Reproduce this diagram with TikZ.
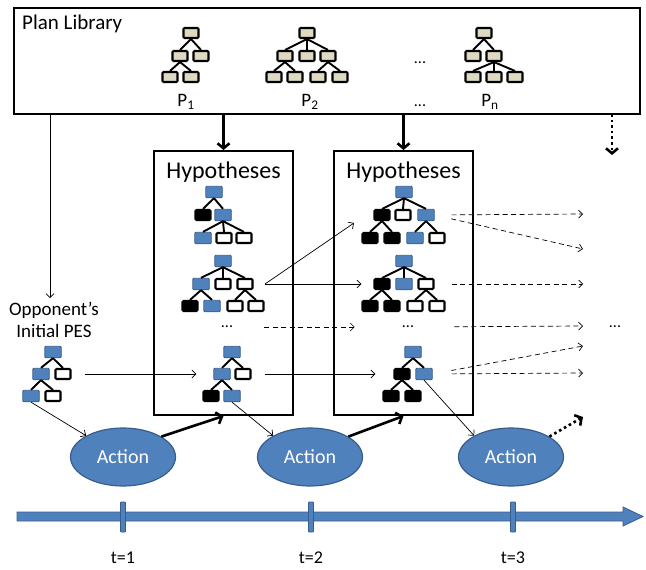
\documentclass[tikz,border=0pt]{standalone}
\usepackage{fontspec}
\setmainfont{Carlito}
\usetikzlibrary{arrows.meta,shapes.geometric}
\definecolor{ofblue}{HTML}{4F81BD}
\definecolor{ofblueb}{HTML}{385D8A}
\definecolor{beige}{HTML}{DDD9C3}
\newcommand\tn[4]{\node[#1] (#2) at (#3,#4) {};}
\newcommand\te[2]{\draw[tedge] (#1.south) -- (#2.north);}
\tikzset{
  tnode/.style={minimum width=15pt, minimum height=10pt, inner sep=0pt, rounded corners=1pt, line width=2.1pt},
  pn/.style={tnode, draw=black, fill=beige},
  bn/.style={tnode, draw=ofblueb, fill=ofblue, line width=0.8pt, minimum width=16.5pt, minimum height=11.5pt},
  kn/.style={tnode, draw=black, fill=black},
  wn/.style={tnode, draw=black, fill=white},
  tedge/.style={line width=1.9pt, black},
  bigbox/.style={draw=black, line width=2pt, inner sep=0pt},
  thin/.style={line width=0.7pt, -{Straight Barb[length=4pt,width=8pt]}},
  dsh/.style={thin, dash pattern=on 5pt off 3.5pt},
  thick/.style={line width=2.6pt, -{Straight Barb[length=5pt,width=12pt]}},
  dotarrow/.style={thick, dash pattern=on 2.6pt off 3pt},
  action/.style={ellipse, draw=ofblueb, fill=ofblue, line width=1.2pt, minimum width=105pt, minimum height=58pt, text=white, font=\fontsize{20}{24}\selectfont},
  lbl/.style={font=\fontsize{19}{22}\selectfont, inner sep=0pt},
  dots/.style={font=\fontsize{16}{18}\selectfont, inner sep=0pt},
}
\begin{document}
\begin{tikzpicture}[x=1pt,y=-1pt]
\useasboundingbox (0,0) rectangle (646,570);

% boxes
\node[bigbox, minimum width=626pt, minimum height=106pt] (pl) at (327,61) {};
\node[anchor=base west, font=\fontsize{21}{24}\selectfont, inner sep=0pt] (plt) at (22,30) {Plan Library};
\node[bigbox, minimum width=139pt, minimum height=264pt] (h1) at (223.5,283) {};
\node[bigbox, minimum width=139pt, minimum height=264pt] (h2) at (403.5,283) {};
\node[font=\fontsize{24}{26}\selectfont, inner sep=0pt] (h1t) at (223.5,172) {Hypotheses};
\node[font=\fontsize{24}{26}\selectfont, inner sep=0pt] (h2t) at (403.5,172) {Hypotheses};

% plan library trees
\tn{pn}{p1r}{191}{33}\tn{pn}{p1a}{180}{56}\tn{pn}{p1b}{201}{56}\tn{pn}{p1c}{170}{77}\tn{pn}{p1d}{191}{77}
\te{p1r}{p1a}\te{p1r}{p1b}\te{p1a}{p1c}\te{p1a}{p1d}
\tn{pn}{p2r}{307}{33}\tn{pn}{p2a}{285}{56}\tn{pn}{p2b}{307}{56}\tn{pn}{p2c}{328}{56}
\tn{pn}{p2d}{274}{77}\tn{pn}{p2e}{295}{77}\tn{pn}{p2f}{318}{77}\tn{pn}{p2g}{340}{77}
\te{p2r}{p2a}\te{p2r}{p2b}\te{p2r}{p2c}\te{p2a}{p2d}\te{p2a}{p2e}\te{p2c}{p2f}\te{p2c}{p2g}
\tn{pn}{pnr}{484}{33}\tn{pn}{pna}{473}{56}\tn{pn}{pnb}{494}{56}
\tn{pn}{pnc}{473}{77}\tn{pn}{pnd}{494}{77}\tn{pn}{pne}{515}{77}
\te{pnr}{pna}\te{pnr}{pnb}\te{pnb}{pnc}\te{pnb}{pnd}\te{pnb}{pne}
\node[lbl] (p1l) at (186,102) {P\textsubscript{1}};
\node[lbl] (p2l) at (310,102) {P\textsubscript{2}};
\node[lbl] (pnl) at (490,102) {P\textsubscript{n}};
\node[dots] (pd1) at (420,63) {...};
\node[dots] (pd2) at (420,106) {...};

% hypotheses box 1
\tn{bn}{aar}{214}{192}\tn{kn}{aaa}{203}{215}\tn{bn}{aab}{223}{215}
\tn{bn}{aac}{203}{238}\tn{wn}{aad}{224}{238}\tn{wn}{aae}{244}{238}
\te{aar}{aaa}\te{aar}{aab}\te{aab}{aac}\te{aab}{aad}\te{aab}{aae}
\tn{bn}{abr}{223}{261}\tn{bn}{aba}{201}{284}\tn{wn}{abb}{223}{284}\tn{wn}{abc}{245}{284}
\tn{kn}{abd}{190}{306}\tn{bn}{abe}{212}{306}\tn{wn}{abf}{235}{306}\tn{wn}{abg}{256}{306}
\te{abr}{aba}\te{abr}{abb}\te{abr}{abc}\te{aba}{abd}\te{aba}{abe}\te{abc}{abf}\te{abc}{abg}
\node[dots] (ad) at (227,327) {...};
\tn{bn}{acr}{232}{352}\tn{bn}{aca}{222}{374}\tn{wn}{acb}{243}{374}
\tn{kn}{acc}{211}{396}\tn{bn}{acd}{232}{396}
\te{acr}{aca}\te{acr}{acb}\te{aca}{acc}\te{aca}{acd}

% hypotheses box 2
\tn{bn}{bar}{404}{192}\tn{kn}{baa}{382}{215}\tn{wn}{bab}{403}{215}\tn{bn}{bac}{426}{215}
\tn{kn}{bad}{370}{238}\tn{kn}{bae}{392}{238}\tn{bn}{baf}{415}{238}\tn{wn}{bag}{437}{238}
\te{bar}{baa}\te{bar}{bab}\te{bar}{bac}\te{baa}{bad}\te{baa}{bae}\te{bac}{baf}\te{bac}{bag}
\tn{bn}{bbr}{404}{261}\tn{kn}{bba}{382}{284}\tn{bn}{bbb}{404}{284}\tn{wn}{bbc}{426}{284}
\tn{kn}{bbd}{370}{306}\tn{kn}{bbe}{392}{306}\tn{wn}{bbf}{415}{306}\tn{wn}{bbg}{437}{306}
\te{bbr}{bba}\te{bbr}{bbb}\te{bbr}{bbc}\te{bba}{bbd}\te{bba}{bbe}\te{bbc}{bbf}\te{bbc}{bbg}
\node[dots] (bd) at (408,327) {...};
\tn{bn}{bcr}{413}{352}\tn{kn}{bca}{402}{374}\tn{bn}{bcb}{424}{374}
\tn{kn}{bcc}{391}{396}\tn{kn}{bcd}{413}{396}
\te{bcr}{bca}\te{bcr}{bcb}\te{bca}{bcc}\te{bca}{bcd}

% initial PES
\node[align=center, font=\fontsize{19}{22}\selectfont, inner sep=0pt] (pest) at (54,320) {Opponent’s\\Initial PES};
\tn{bn}{per}{53}{352}\tn{bn}{pea}{41}{374}\tn{wn}{peb}{63}{374}
\tn{bn}{pec}{31}{396}\tn{wn}{ped}{53}{396}
\te{per}{pea}\te{per}{peb}\te{pea}{pec}\te{pea}{ped}

% actions
\node[action] (a1) at (123,457) {Action};
\node[action] (a2) at (310,457) {Action};
\node[action] (a3) at (511,457) {Action};

% free ends
\coordinate (pldot) at (612,114);
\coordinate (pldotend) at (612,155);
\coordinate (adotend) at (583,417);
\coordinate (e1) at (583,214);
\coordinate (e2) at (583,249);
\coordinate (e3) at (583,284);
\coordinate (e4) at (583,326);
\coordinate (e5) at (583,373);
\coordinate (e6) at (583,346);
\node[dots] (rd) at (615,327) {...};
\coordinate (plx) at (50,114);
\coordinate (pesin) at (50,298);
\coordinate (s1) at (265,284);
\coordinate (s1end) at (354,223);

% connectors
\draw[thin] (plx) -- (pesin);
\draw[thick] (pl.south -| h1.north) -- (h1.north);
\draw[thick] (pl.south -| h2.north) -- (h2.north);
\draw[dotarrow] (pldot) -- (pldotend);

\draw[thin, shorten <=13pt] (peb.east) -- ([xshift=-17pt]aca.west);
\draw[thin, shorten <=11pt] (abc.east) -- ([xshift=-12pt]bba.west);
\draw[thin] (s1) -- (s1end);
\draw[thin, shorten <=13pt] (acb.east) -- ([xshift=-18pt]bca.west);
\draw[dsh, shorten <=31pt] (ad.east) -- ([xshift=-47pt]bd.west);

\draw[dsh, shorten <=17pt] (bac.east) -- (e1);
\draw[dsh, shorten <=17pt] (bac.east) -- (e2);
\draw[dsh, shorten <=17pt] (bbc.east) -- (e3);
\draw[dsh, shorten <=40pt] (bd.east) -- (e4);
\draw[dsh, shorten <=19pt] (bcb.east) -- (e5);
\draw[dsh, shorten <=19pt] (bcb.east) -- (e6);

\draw[thin] (pec.south) -- (a1.150);
\draw[thin] (acd.south) -- (a2.150);
\draw[thin] (bcb.south) -- (a3.150);
\draw[thick] (a1.28) -- (h1.south);
\draw[thick] (a2.28) -- (h2.south);
\draw[dotarrow] (a3.28) -- (adotend);

% timeline
\draw[draw=ofblueb, fill=ofblue, line width=0.8pt]
  (17,512) -- (623,512) -- (623,507) -- (643,516.5) -- (623,526) -- (623,521) -- (17,521) -- cycle;
\foreach \tx/\nm in {123/1,311/2,513/3}{
  \draw[draw=ofblueb, fill=ofblue, line width=0.8pt, rounded corners=0.8pt] (\tx-2.5,502) rectangle (\tx+2.5,532);
  \node[font=\fontsize{18}{20}\selectfont, inner sep=0pt] (t\nm) at (\tx,558) {t=\nm};
}
\end{tikzpicture}
\end{document}
